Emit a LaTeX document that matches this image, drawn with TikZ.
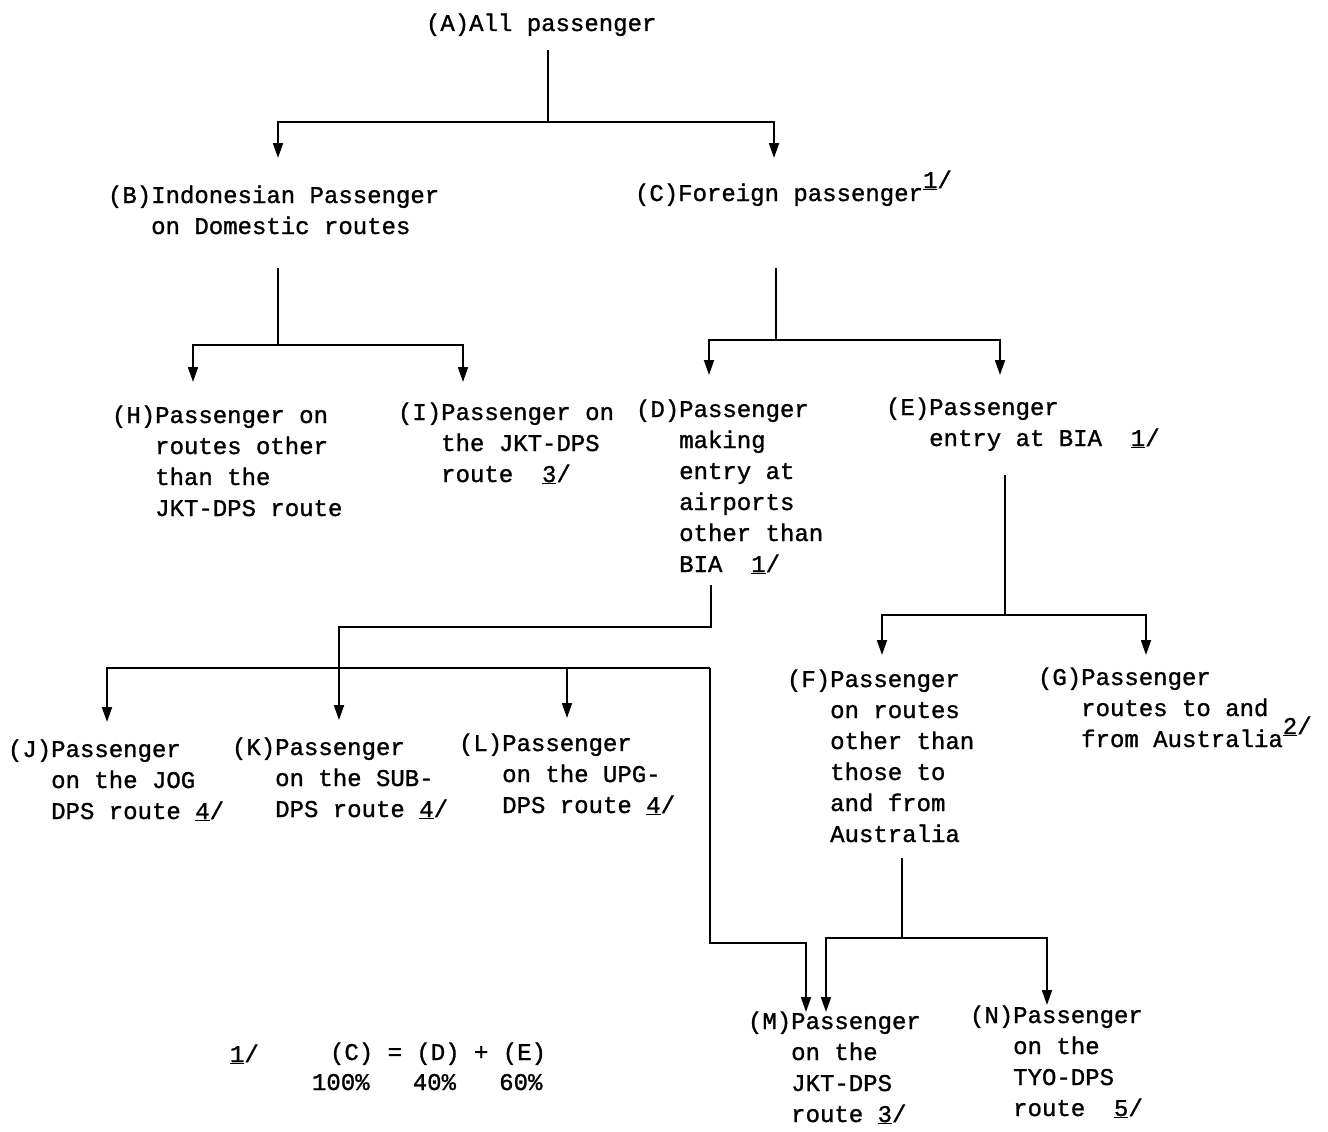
\documentclass[tikz,border=0pt]{standalone}
\usepackage{fontspec}
\newfontfamily\twfont[FakeBold=1.2]{Liberation Mono}
\usetikzlibrary{arrows.meta}
\newcommand{\fnm}[1]{\underline{#1}/}
\newcommand{\supfn}[1]{\raisebox{13pt}[0pt][0pt]{\fnm{#1}}}
\tikzset{
  txt/.style={anchor=base west, inner sep=0pt, outer sep=0pt, font={\twfont\fontsize{24}{31}\selectfont}},
  ln/.style={line width=1.8pt, line join=miter},
  arr/.style={ln, -{Triangle[length=15pt,width=10pt]}}
}
\begin{document}
\begin{tikzpicture}[x=1pt,y=-1pt]
\useasboundingbox (0,0) rectangle (1328,1132);
% nodes
\node[txt] (A) at (426,31) {(A)All passenger};
\node[txt] (B) at (108,203) {\begin{tabular}[t]{@{}l@{}l@{}}(B)&Indonesian Passenger\\&on Domestic routes\end{tabular}};
\node[txt] (C) at (635,201) {(C)Foreign passenger\supfn{1}};
\node[txt] (H) at (112,423) {\begin{tabular}[t]{@{}l@{}l@{}}(H)&Passenger on\\&routes other\\&than the\\&JKT-DPS route\end{tabular}};
\node[txt] (I) at (398,420) {\begin{tabular}[t]{@{}l@{}l@{}}(I)&Passenger on\\&the JKT-DPS\\&route~~\fnm{3}\end{tabular}};
\node[txt] (D) at (636,417) {\begin{tabular}[t]{@{}l@{}l@{}}(D)&Passenger\\&making\\&entry at\\&airports\\&other than\\&BIA~~\fnm{1}\end{tabular}};
\node[txt] (E) at (886,415) {\begin{tabular}[t]{@{}l@{}l@{}}(E)&Passenger\\&entry at BIA~~\fnm{1}\end{tabular}};
\node[txt] (J) at (8,757) {\begin{tabular}[t]{@{}l@{}l@{}}(J)&Passenger\\&on the JOG\\&DPS route \fnm{4}\end{tabular}};
\node[txt] (K) at (232,755) {\begin{tabular}[t]{@{}l@{}l@{}}(K)&Passenger\\&on the SUB-\\&DPS route \fnm{4}\end{tabular}};
\node[txt] (L) at (459,751) {\begin{tabular}[t]{@{}l@{}l@{}}(L)&Passenger\\&on the UPG-\\&DPS route \fnm{4}\end{tabular}};
\node[txt] (F) at (787,687) {\begin{tabular}[t]{@{}l@{}l@{}}(F)&Passenger\\&on routes\\&other than\\&those to\\&and from\\&Australia\end{tabular}};
\node[txt] (G) at (1038,685) {\begin{tabular}[t]{@{}l@{}l@{}}(G)&Passenger\\&routes to and\\&from Australia\supfn{2}\end{tabular}};
\node[txt] (M) at (748,1029) {\begin{tabular}[t]{@{}l@{}l@{}}(M)&Passenger\\&on the\\&JKT-DPS\\&route \fnm{3}\end{tabular}};
\node[txt] (N) at (970,1023) {\begin{tabular}[t]{@{}l@{}l@{}}(N)&Passenger\\&on the\\&TYO-DPS\\&route~~\fnm{5}\end{tabular}};
\node[txt] (fn1) at (230,1062) {\fnm{1}};
\node[txt] (fn2) at (330,1060) {(C) = (D) + (E)};
\node[txt] (fn3) at (312,1090) {100\%~~~40\%~~~60\%};
% junction coordinates
\coordinate (a0) at (548,50);   \coordinate (jA) at (548,122);
\coordinate (bIn) at (278,158); \coordinate (cIn) at (774,158);
\coordinate (b0) at (278,268);  \coordinate (jB) at (278,345);
\coordinate (hIn) at (193,382); \coordinate (iIn) at (463,382);
\coordinate (c0) at (776,268);  \coordinate (jC) at (776,340);
\coordinate (dIn) at (709,375); \coordinate (eIn) at (1000,375);
\coordinate (d0) at (711,585);  \coordinate (jD) at (711,627);
\coordinate (kIn) at (339,720);
\coordinate (jD2) at (710,668); \coordinate (jIn) at (107,722);
\coordinate (lTop) at (567,668); \coordinate (lIn) at (567,718);
\coordinate (mBend) at (710,943); \coordinate (mIn1) at (806,1012);
\coordinate (e0) at (1005,475); \coordinate (jE) at (1005,615);
\coordinate (fIn) at (882,655); \coordinate (gIn) at (1146,655);
\coordinate (f0) at (902,858);  \coordinate (jF) at (902,938);
\coordinate (mIn2) at (826,1012); \coordinate (nIn) at (1047,1005);
% connectors
\draw[ln] (a0) -- (jA);
\draw[arr] (jA) -| (bIn);
\draw[arr] (jA) -| (cIn);
\draw[ln] (b0) -- (jB);
\draw[arr] (jB) -| (hIn);
\draw[arr] (jB) -| (iIn);
\draw[ln] (c0) -- (jC);
\draw[arr] (jC) -| (dIn);
\draw[arr] (jC) -| (eIn);
\draw[arr] (d0) -- (jD) -| (kIn);
\draw[arr] (jD2) -| (jIn);
\draw[arr] (lTop) -- (lIn);
\draw[arr] (jD2) -- (mBend) -| (mIn1);
\draw[ln] (e0) -- (jE);
\draw[arr] (jE) -| (fIn);
\draw[arr] (jE) -| (gIn);
\draw[ln] (f0) -- (jF);
\draw[arr] (jF) -| (mIn2);
\draw[arr] (jF) -| (nIn);
\end{tikzpicture}
\end{document}
